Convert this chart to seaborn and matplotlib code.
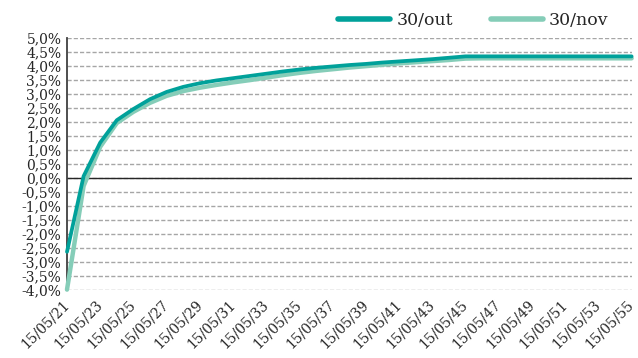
import matplotlib
matplotlib.use("Agg")
import matplotlib.pyplot as plt
import seaborn as sns
import pandas as pd
from matplotlib.ticker import FuncFormatter, MultipleLocator
from matplotlib.lines import Line2D

# Maturity years (20xx) of the curve vertices, one per year
years = list(range(21, 56))

# Rate curve (% a.a.) on 30/out
curve_out = [-2.65, 0.05, 1.25, 2.05, 2.45, 2.80, 3.06, 3.24, 3.37, 3.47,
             3.55, 3.63, 3.71, 3.79, 3.86, 3.92, 3.97, 4.02, 4.06, 4.11,
             4.15, 4.19, 4.23, 4.28, 4.33, 4.33, 4.33, 4.33, 4.33, 4.33,
             4.33, 4.33, 4.33, 4.33, 4.33]

# Rate curve (% a.a.) on 30/nov
curve_nov = [-4.00, -0.30, 1.10, 1.95, 2.35, 2.67, 2.92, 3.09, 3.21, 3.31,
             3.40, 3.48, 3.57, 3.66, 3.74, 3.81, 3.87, 3.93, 3.98, 4.03,
             4.08, 4.12, 4.16, 4.20, 4.25, 4.26, 4.26, 4.26, 4.26, 4.26,
             4.26, 4.26, 4.26, 4.26, 4.26]

series_names = ["30/out", "30/nov"]
tick_years = list(range(21, 56, 2))
tick_labels = [f"15/05/{y}" for y in tick_years]

df = pd.concat([
    pd.DataFrame({"ano": years, "taxa": curve_out, "serie": series_names[0]}),
    pd.DataFrame({"ano": years, "taxa": curve_nov, "serie": series_names[1]}),
])

sns.set_theme(style="white")
plt.rcParams["font.family"] = ["DejaVu Serif"]

fig = plt.figure(figsize=(6.38, 3.58), dpi=100)
ax = fig.add_axes([0.105, 0.191, 0.885, 0.704])

palette = {"30/out": "#00A19A", "30/nov": "#85CDB8"}
sns.lineplot(data=df[df["serie"] == "30/nov"], x="ano", y="taxa",
             color=palette["30/nov"], linewidth=3.2, ax=ax, zorder=3,
             clip_on=False)
sns.lineplot(data=df[df["serie"] == "30/out"], x="ano", y="taxa",
             color=palette["30/out"], linewidth=2.7, ax=ax, zorder=4,
             clip_on=False)

ax.set_xlim(21, 55)
ax.set_ylim(-4.0, 5.0)
ax.yaxis.set_major_locator(MultipleLocator(0.5))
ax.yaxis.set_major_formatter(FuncFormatter(lambda v, p: f"{v:.1f}%".replace(".", ",")))
ax.grid(axis="y", color="#A6A6A6", linestyle=(0, (3, 1.5)), linewidth=1.0)
ax.grid(axis="x", visible=False)
ax.axhline(0, color="#262626", linewidth=1.0, zorder=2)

ax.set_xticks(tick_years)
ax.set_xticklabels(tick_labels, rotation=45, ha="right", va="center",
                   rotation_mode="anchor")
ax.tick_params(axis="both", length=0, labelsize=10, colors="#262626")
ax.tick_params(axis="x", pad=9)
ax.tick_params(axis="y", pad=4)
ax.set_xlabel("")
ax.set_ylabel("")

for side in ["top", "right", "bottom"]:
    ax.spines[side].set_visible(False)
ax.spines["left"].set_color("#404040")
ax.spines["left"].set_linewidth(1.3)
ax.spines["left"].set_zorder(2.5)

handles = [Line2D([], [], color=palette[n], linewidth=4) for n in series_names]
fig.legend(handles, series_names, loc="center", bbox_to_anchor=(0.742, 0.942),
           ncol=2, frameon=False, fontsize=12.5, handlelength=3.0,
           handletextpad=0.35, columnspacing=2.2)

fig.savefig("out.png", dpi=100)
